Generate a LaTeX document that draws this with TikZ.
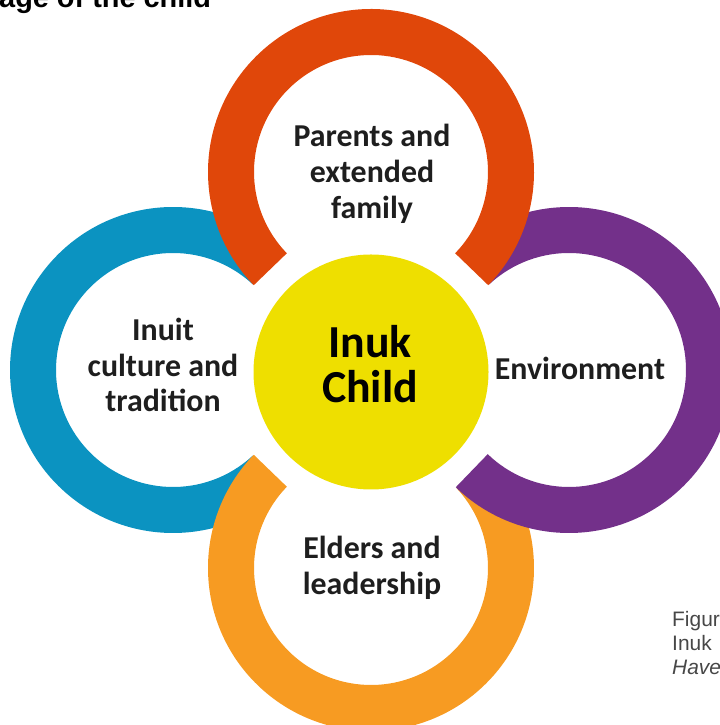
\documentclass[tikz,border=0pt]{standalone}
\usepackage{fontspec}
\newfontfamily\ringfont{Carlito}
\newfontfamily\capfont{Liberation Sans}
\usetikzlibrary{positioning}

\definecolor{ringred}{HTML}{E0470A}
\definecolor{ringblue}{HTML}{0B93C1}
\definecolor{ringpurple}{HTML}{73308A}
\definecolor{ringorange}{HTML}{F79B22}
\definecolor{childyellow}{HTML}{EEDF00}
\definecolor{labeltext}{HTML}{1E1E1E}

\begin{document}
\begin{tikzpicture}[x=1bp, y=1bp,
    lbl/.style={font=\ringfont\bfseries\fontsize{32}{36}\selectfont, text=labeltext, align=center, inner sep=0pt},
    capt/.style={anchor=base west, font=\capfont\fontsize{21}{24}\selectfont, text=black!72, inner sep=0pt}
]
    \useasboundingbox (0,0) rectangle (720,725);
    \clip (0,0) rectangle (720,725);

    % ring centres
    \coordinate (ctop)    at (371,553);
    \coordinate (cleft)   at (173,355);
    \coordinate (cright)  at (569,355);
    \coordinate (cbottom) at (371,157);

    % rings, back to front
    \fill[ringblue]   ([shift={(cleft)}]47:163) arc[start angle=47, end angle=313, radius=163]
        -- ([shift={(cleft)}]313:117) arc[start angle=313, end angle=47, radius=117] -- cycle;
    \fill[ringorange] ([shift={(cbottom)}]136:163) arc[start angle=136, end angle=403, radius=163]
        -- ([shift={(cbottom)}]403:117) arc[start angle=403, end angle=136, radius=117] -- cycle;
    \fill[ringpurple] ([shift={(cright)}]226:163) arc[start angle=226, end angle=493, radius=163]
        -- ([shift={(cright)}]493:117) arc[start angle=493, end angle=226, radius=117] -- cycle;
    \fill[ringred]    ([shift={(ctop)}]-44:163) arc[start angle=-44, end angle=224, radius=163]
        -- ([shift={(ctop)}]224:117) arc[start angle=224, end angle=-44, radius=117] -- cycle;

    % centre
    \node[circle, fill=childyellow, minimum size=235bp, inner sep=0pt] (child) at (371,353) {};
    \node[font=\ringfont\bfseries\fontsize{46}{45}\selectfont, align=center, inner sep=0pt] (childlbl) at (370,361) {Inuk\\Child};

    % ring labels
    \node[lbl] (family)  at (372,551) {Parents and\\extended\\family};
    \node[lbl] (culture) at (163,360) {Inuit\\culture and\\tradition};
    \node[lbl] (env)     at (580,357) {Environment};
    \node[lbl] (elders)  at (372,157) {Elders and\\leadership};

    % heading and note, both running off the page
    \node[anchor=base west, font=\capfont\bfseries\fontsize{29}{34}\selectfont, inner sep=0pt] (head) at (-1,717) {age of the child};
    \node[capt] (fig)  at (672,98) {Figur};
    \node[capt] (inuk) at (672,74) {Inuk};
    \node[capt] (have) at (672,50) {\textit{Have}};
\end{tikzpicture}
\end{document}
